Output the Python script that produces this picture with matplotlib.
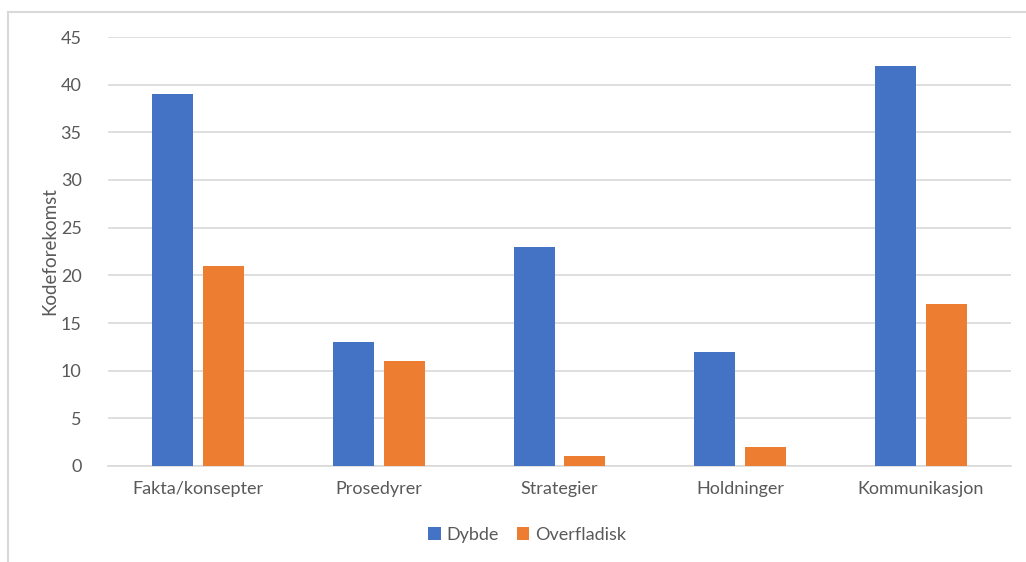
import matplotlib.pyplot as plt
import numpy as np
from matplotlib.lines import Line2D

# data
categories = ['Fakta/konsepter', 'Prosedyrer', 'Strategier', 'Holdninger', 'Kommunikasjon']
dybde = [39, 13, 23, 12, 42]
overfladisk = [21, 11, 1, 2, 17]

blue = '#4472C4'
orange = '#ED7D31'
txt = '#595959'
grid = '#D9D9D9'

plt.rcParams['font.family'] = ['Lato', 'DejaVu Sans']

fig = plt.figure(figsize=(10.26, 5.62), dpi=100)
ax = fig.add_axes([108 / 1026, 1 - 466 / 562, (1011 - 108) / 1026, (466 - 37) / 562])

x = np.arange(len(categories))
w = 0.227
off = 0.141
ax.bar(x - off, dybde, w, color=blue, label='Dybde', zorder=3)
ax.bar(x + off, overfladisk, w, color=orange, label='Overfladisk', zorder=3)

ax.set_xlim(-0.5, len(categories) - 0.5)
ax.set_ylim(0, 45)
ax.set_yticks(range(0, 46, 5))
ax.set_xticks(x)
ax.set_xticklabels(categories)

ax.grid(axis='y', color=grid, linewidth=1.2, zorder=0)
for s in ['top', 'right', 'left']:
    ax.spines[s].set_visible(False)
ax.spines['bottom'].set_color(grid)
ax.spines['bottom'].set_linewidth(1.2)
ax.tick_params(axis='both', length=0, labelsize=13, colors=txt)
ax.tick_params(axis='y', pad=19)
ax.tick_params(axis='x', pad=11)

ax.set_ylabel('Kodeforekomst', fontsize=13.5, color=txt, labelpad=2)

fig.legend(loc='center', bbox_to_anchor=(527 / 1026, 1 - 535 / 562), ncol=2,
           frameon=False, fontsize=13, labelcolor=txt, handlelength=0.7,
           handleheight=0.7, handletextpad=0.3, columnspacing=1.0)

# outer frame (left and top edges visible)
fig.add_artist(Line2D([8 / 1026, 8 / 1026], [0, 1 - 12 / 562], color=grid, linewidth=1.5,
                      transform=fig.transFigure))
fig.add_artist(Line2D([8 / 1026, 1], [1 - 12 / 562, 1 - 12 / 562], color=grid, linewidth=1.5,
                      transform=fig.transFigure))

fig.savefig('out.png', dpi=100)
